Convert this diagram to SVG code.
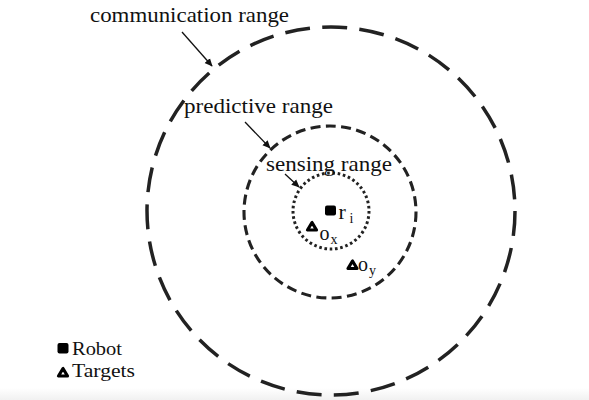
<svg xmlns="http://www.w3.org/2000/svg" width="589" height="400" viewBox="0 0 589 400">
<defs>
<marker id="ah" viewBox="0 0 10 10" refX="9" refY="5" markerWidth="8" markerHeight="8" markerUnits="userSpaceOnUse" orient="auto">
<path d="M0,0.5 L10,5 L0,9.5 Z" fill="#111"/>
</marker>
<linearGradient id="shade" x1="0" y1="0" x2="0" y2="1">
<stop offset="0" stop-color="#ffffff"/>
<stop offset="1" stop-color="#f1f1f1"/>
</linearGradient>
</defs>
<style>
text{font-family:"Liberation Serif","Times New Roman",serif;fill:#111}
.lbl{font-size:21px}
.leg{font-size:19px}
.ring{fill:none;stroke:#222}
.arr{stroke:#111;stroke-width:1.3;fill:none;marker-end:url(#ah)}
.tri{fill:#fff;stroke:#000;stroke-width:3.2;stroke-linejoin:round}
</style>
<rect width="589" height="400" fill="#fff"/>
<rect x="0" y="388" width="589" height="12" fill="url(#shade)"/>

<g id="communication-range">
<circle class="ring" cx="331" cy="211" r="184" stroke-width="3.5" stroke-dasharray="25 12.3"/>
<text class="lbl" x="90" y="22" textLength="199" lengthAdjust="spacingAndGlyphs">communication range</text>
</g>
<g id="predictive-range">
<circle class="ring" cx="330" cy="212" r="86" stroke-width="3.1" stroke-dasharray="10 5.4"/>
<text class="lbl" x="184" y="113" textLength="149" lengthAdjust="spacingAndGlyphs">predictive range</text>
</g>
<g id="sensing-range">
<circle class="ring" cx="331" cy="211" r="38" stroke-width="3" stroke-dasharray="2.6 2.7"/>
<text class="lbl" x="266" y="171" textLength="126" lengthAdjust="spacingAndGlyphs">sensing range</text>
</g>

<g id="connectors">
<line class="arr" x1="182" y1="32" x2="212" y2="66"/>
<line class="arr" x1="245" y1="122" x2="270" y2="148"/>
<line class="arr" x1="285" y1="174" x2="299" y2="187"/>
</g>

<g id="robot-ri">
<rect x="325" y="205.5" width="11" height="10" rx="2" fill="#000"/>
<text x="338.5" y="219" font-size="22">r</text>
<text x="349.5" y="223" font-size="14">i</text>
</g>
<g id="target-ox">
<path class="tri" d="M312,222.5 L307.5,230 L316.5,230 Z"/>
<text x="319.5" y="240" font-size="20">o</text>
<text x="330.5" y="243.5" font-size="14">x</text>
</g>
<g id="target-oy">
<path class="tri" d="M352.5,261 L348,268.5 L357,268.5 Z"/>
<text x="358" y="271" font-size="20">o</text>
<text x="369" y="274.5" font-size="14">y</text>
</g>

<g id="legend">
<rect x="57.5" y="343" width="11" height="10.5" rx="2" fill="#000"/>
<text class="leg" x="72" y="355" textLength="50" lengthAdjust="spacingAndGlyphs">Robot</text>
<path class="tri" d="M63,368.5 L58.5,376 L67.5,376 Z"/>
<text class="leg" x="72" y="377" textLength="63" lengthAdjust="spacingAndGlyphs">Targets</text>
</g>
</svg>
